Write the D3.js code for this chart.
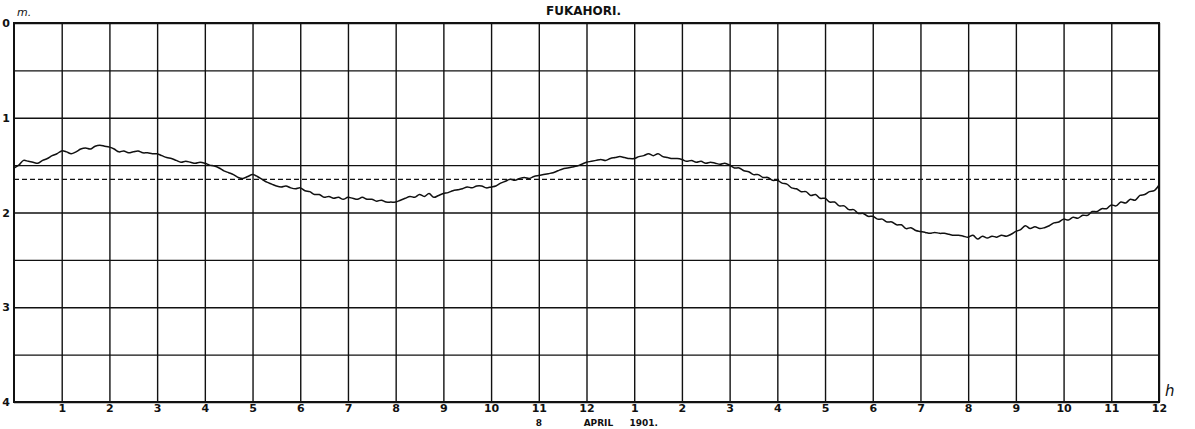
<!DOCTYPE html>
<html>
<head>
<meta charset="utf-8">
<script src="https://cdn.jsdelivr.net/npm/d3@7"></script>
<style>
body{margin:0;background:#fff;}
text{font-family:"DejaVu Sans",sans-serif;fill:#111;}
</style>
</head>
<body>
<div id="chart"></div>
<script>
const title="FUKAHORI.";
const dateLabel=["8","APRIL","1901."];
const hourTicks=d3.range(1,25);
const hourLabels=["1","2","3","4","5","6","7","8","9","10","11","12","1","2","3","4","5","6","7","8","9","10","11","12"];
const depthTicks=[0,1,2,3,4];
const meanLevel=1.65;
const step=0.1; // hours between readings
// sea level (m), one row per hour, readings every 6 minutes
const level=[
  1.53,1.50,1.45,1.46,1.47,1.48,1.45,1.43,1.40,1.38,
  1.35,1.36,1.38,1.36,1.33,1.32,1.33,1.30,1.29,1.30,
  1.31,1.33,1.36,1.35,1.37,1.36,1.35,1.37,1.37,1.38,
  1.38,1.40,1.42,1.43,1.45,1.47,1.46,1.47,1.48,1.47,
  1.48,1.50,1.51,1.53,1.56,1.58,1.60,1.63,1.64,1.62,
  1.60,1.62,1.65,1.68,1.70,1.72,1.73,1.72,1.74,1.75,
  1.74,1.77,1.78,1.81,1.81,1.84,1.83,1.85,1.84,1.86,
  1.84,1.85,1.86,1.84,1.86,1.86,1.88,1.87,1.89,1.89,
  1.89,1.87,1.85,1.83,1.84,1.81,1.83,1.80,1.84,1.82,
  1.80,1.79,1.77,1.76,1.75,1.73,1.74,1.72,1.72,1.74,
  1.73,1.72,1.69,1.67,1.65,1.66,1.64,1.63,1.64,1.62,
  1.61,1.60,1.59,1.58,1.56,1.54,1.53,1.52,1.51,1.49,
  1.47,1.46,1.45,1.44,1.45,1.43,1.42,1.41,1.42,1.43,
  1.43,1.41,1.40,1.38,1.40,1.38,1.41,1.42,1.43,1.43,
  1.44,1.46,1.45,1.47,1.46,1.48,1.47,1.48,1.49,1.48,
  1.50,1.53,1.53,1.56,1.57,1.60,1.60,1.63,1.63,1.66,
  1.66,1.69,1.70,1.74,1.75,1.78,1.78,1.82,1.81,1.85,
  1.85,1.89,1.89,1.93,1.93,1.97,1.97,2.01,2.01,2.04,
  2.04,2.07,2.07,2.10,2.10,2.13,2.13,2.17,2.16,2.19,
  2.20,2.21,2.22,2.21,2.22,2.22,2.23,2.24,2.24,2.25,
  2.26,2.24,2.28,2.25,2.27,2.25,2.26,2.24,2.25,2.23,
  2.20,2.18,2.14,2.17,2.15,2.17,2.16,2.14,2.11,2.10,
  2.07,2.08,2.05,2.06,2.03,2.03,1.99,1.99,1.96,1.96,
  1.92,1.93,1.89,1.90,1.86,1.87,1.82,1.81,1.78,1.77,
  1.71
];

const w=1195, h=429;
const m={top:23,right:36,bottom:27,left:14};
const iw=w-m.left-m.right, ih=h-m.top-m.bottom;

const svg=d3.select("#chart").append("svg").attr("width",w).attr("height",h);
const g=svg.append("g").attr("transform",`translate(${m.left},${m.top})`);

const x=d3.scaleLinear().domain([0,24]).range([0,iw]);
const y=d3.scaleLinear().domain([0,4]).range([0,ih]);

// vertical grid + hour labels
const xAxis=g.append("g").attr("transform",`translate(0,${ih})`)
  .call(d3.axisBottom(x).tickValues(hourTicks).tickSize(-ih).tickPadding(2)
    .tickFormat((d,i)=>hourLabels[i]));
xAxis.select(".domain").remove();
xAxis.selectAll("line").attr("stroke","#111").attr("stroke-width",1.4);
xAxis.selectAll("text").attr("font-size",11).attr("font-weight","bold").attr("fill","#111");

// horizontal grid every half metre
const yGrid=g.append("g")
  .call(d3.axisLeft(y).tickValues(d3.range(0,4.01,0.5)).tickSize(-iw).tickFormat(""));
yGrid.select(".domain").remove();
yGrid.selectAll("line").attr("stroke","#111").attr("stroke-width",1.4);

// depth labels
const yAxis=g.append("g")
  .call(d3.axisLeft(y).tickValues(depthTicks).tickSize(0).tickPadding(4).tickFormat(d3.format("d")));
yAxis.select(".domain").remove();
yAxis.selectAll("text").attr("font-size",11).attr("font-weight","bold").attr("fill","#111");

// frame
g.append("rect").attr("width",iw).attr("height",ih)
  .attr("fill","none").attr("stroke","#111").attr("stroke-width",2);

// mean level
g.append("line").attr("x1",0).attr("x2",iw)
  .attr("y1",y(meanLevel)).attr("y2",y(meanLevel))
  .attr("stroke","#111").attr("stroke-width",1.3).attr("stroke-dasharray","5,3");

// tide curve
const line=d3.line().x((d,i)=>x(i*step)).y(d=>y(d)).curve(d3.curveCatmullRom);
g.append("path").datum(level).attr("d",line)
  .attr("fill","none").attr("stroke","#111").attr("stroke-width",1.5);

// titles
svg.append("text").attr("x",m.left+x(12)-3).attr("y",15).attr("text-anchor","middle")
  .attr("font-size",12).attr("font-weight","bold").text(title);
svg.append("text").attr("x",17).attr("y",16).attr("font-size",11)
  .attr("font-style","italic").attr("font-family","DejaVu Serif").text("m.");
svg.append("text").attr("x",m.left+iw+6).attr("y",m.top+ih-6).attr("font-size",15)
  .attr("font-style","italic").attr("font-family","DejaVu Serif").text("h");
svg.append("text").attr("x",m.left+x(11)).attr("y",426).attr("text-anchor","middle")
  .attr("font-size",9).attr("font-weight","bold").text(dateLabel[0]);
svg.append("text").attr("x",m.left+x(12.25)).attr("y",426).attr("text-anchor","middle")
  .attr("font-size",9).attr("font-weight","bold").text(dateLabel[1]);
svg.append("text").attr("x",m.left+x(13.2)).attr("y",426).attr("text-anchor","middle")
  .attr("font-size",9).attr("font-weight","bold").text(dateLabel[2]);
</script>
</body>
</html>
